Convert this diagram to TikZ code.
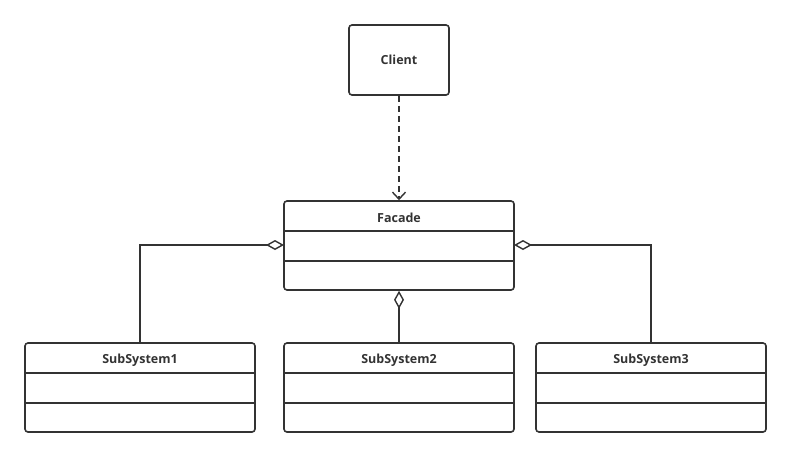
\documentclass[tikz,border=0pt]{standalone}
\usepackage{fontspec}
\setmainfont{Open Sans}
\usetikzlibrary{arrows.meta}
\definecolor{ink}{HTML}{333333}
\tikzset{
  classbox/.style={draw=ink, line width=1.6pt, rounded corners=3pt, minimum width=230pt, minimum height=89pt, inner sep=0pt, fill=white},
  clientbox/.style={draw=ink, line width=1.6pt, rounded corners=3pt, minimum width=100pt, minimum height=70pt, inner sep=0pt, font=\bfseries\fontsize{12.5}{14}\selectfont, text=ink},
  title/.style={font=\bfseries\fontsize{12.5}{14}\selectfont, text=ink, inner sep=0pt},
  divider/.style={draw=ink, line width=1.6pt},
  conn/.style={draw=ink, line width=1.6pt},
  agg/.style={conn, {Diamond[open, length=18pt, width=10pt, line width=1.4pt]}-},
  dep/.style={conn, dashed, dash pattern=on 6pt off 4pt, -{Straight Barb[length=7pt, width=13pt, line width=1.4pt]}}
}
\begin{document}
\begin{tikzpicture}[x=1pt, y=-1pt]
\useasboundingbox (0,0) rectangle (791,458);
\fill[white] (0,0) rectangle (791,458);
% Client
\node[clientbox] (client) at (399,60) {\raisebox{-1.5pt}{Client}};
% Facade
\node[classbox] (facade) at (399,245.5) {};
\node[title] (facadet) at (399,218) {Facade};
\draw[divider] (284,231) -- (514,231);
\draw[divider] (284,261) -- (514,261);
% Subsystems
\node[classbox] (s1) at (140,387.5) {};
\node[title] (s1t) at (140,360) {SubSystem1};
\draw[divider] (25,373) -- (255,373);
\draw[divider] (25,403) -- (255,403);
\node[classbox] (s2) at (399,387.5) {};
\node[title] (s2t) at (399,360) {SubSystem2};
\draw[divider] (284,373) -- (514,373);
\draw[divider] (284,403) -- (514,403);
\node[classbox] (s3) at (651,387.5) {};
\node[title] (s3t) at (651,360) {SubSystem3};
\draw[divider] (536,373) -- (766,373);
\draw[divider] (536,403) -- (766,403);
% connectors
\coordinate (f1) at (284,245);
\coordinate (f3) at (514,245);
\draw[dep] (client.south) -- (facade.north);
\draw[agg] (f1) -| (s1.north);
\draw[agg] (facade.south) -- (s2.north);
\draw[agg] (f3) -| (s3.north);
\end{tikzpicture}
\end{document}
